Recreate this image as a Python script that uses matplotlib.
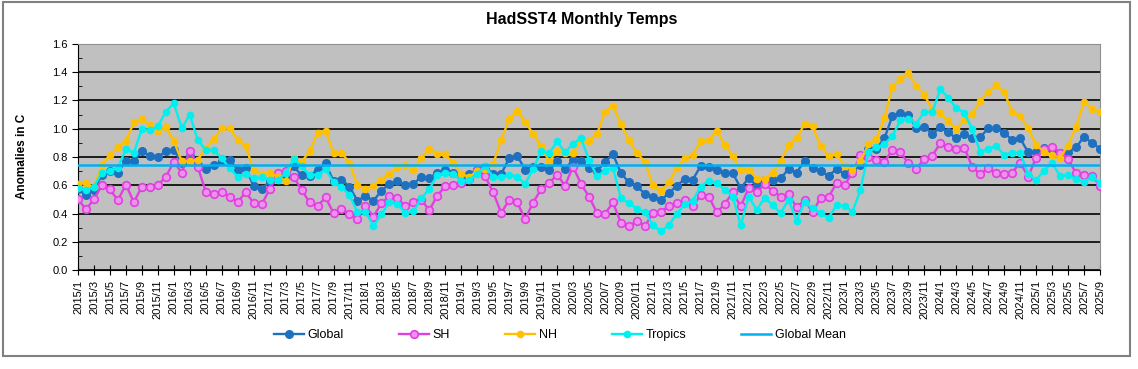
import matplotlib
matplotlib.use("Agg")
import matplotlib.pyplot as plt
from matplotlib.patches import Rectangle
import numpy as np

plt.rcParams['font.family'] = ['Liberation Sans', 'DejaVu Sans']

# months 2015/1 .. 2025/9
months = [f"{2015 + k // 12}/{k % 12 + 1}" for k in range(129)]

global_sst = [
    0.57, 0.53, 0.565, 0.675, 0.70, 0.69, 0.775, 0.775, 0.84, 0.81,
    0.80, 0.84, 0.85, 0.76, 0.81, 0.74, 0.715, 0.74, 0.77, 0.78,
    0.71, 0.72, 0.595, 0.57, 0.63, 0.65, 0.66, 0.735, 0.67, 0.665,
    0.71, 0.755, 0.63, 0.64, 0.59, 0.49, 0.525, 0.49, 0.56, 0.61,
    0.63, 0.60, 0.61, 0.66, 0.65, 0.69, 0.71, 0.685, 0.665, 0.68,
    0.71, 0.73, 0.68, 0.68, 0.79, 0.81, 0.71, 0.73, 0.73, 0.705,
    0.77, 0.715, 0.78, 0.775, 0.72, 0.70, 0.765, 0.82, 0.686, 0.62,
    0.596, 0.537, 0.516, 0.493, 0.545, 0.596, 0.646, 0.64, 0.738, 0.73,
    0.71, 0.686, 0.686, 0.58, 0.65, 0.596, 0.64, 0.634, 0.65, 0.714,
    0.69, 0.773, 0.72, 0.70, 0.667, 0.714, 0.68, 0.71, 0.74, 0.86,
    0.86, 0.932, 1.09, 1.11, 1.10, 1.003, 1.015, 0.963, 1.01, 0.975,
    0.932, 0.963, 0.932, 0.94, 1.003, 1.003, 0.972, 0.92, 0.932, 0.833,
    0.838, 0.866, 0.85, 0.83, 0.838, 0.868, 0.944, 0.90, 0.86,
]

sh_sst = [
    0.50, 0.43, 0.50, 0.60, 0.57, 0.495, 0.605, 0.48, 0.59, 0.585,
    0.60, 0.66, 0.765, 0.69, 0.845, 0.73, 0.555, 0.535, 0.55, 0.52,
    0.48, 0.55, 0.475, 0.465, 0.57, 0.686, 0.70, 0.66, 0.568, 0.478,
    0.45, 0.515, 0.403, 0.433, 0.398, 0.362, 0.452, 0.378, 0.473, 0.523,
    0.508, 0.452, 0.484, 0.497, 0.423, 0.527, 0.593, 0.603, 0.614, 0.644,
    0.711, 0.662, 0.549, 0.405, 0.494, 0.48, 0.36, 0.477, 0.572, 0.617,
    0.673, 0.598, 0.732, 0.609, 0.52, 0.405, 0.398, 0.478, 0.334, 0.308,
    0.35, 0.31, 0.403, 0.408, 0.455, 0.474, 0.493, 0.45, 0.533, 0.52,
    0.408, 0.467, 0.55, 0.45, 0.58, 0.55, 0.61, 0.56, 0.52, 0.537,
    0.443, 0.497, 0.408, 0.51, 0.516, 0.615, 0.604, 0.686, 0.816, 0.80,
    0.78, 0.765, 0.852, 0.832, 0.756, 0.718, 0.786, 0.81, 0.897, 0.873,
    0.857, 0.866, 0.73, 0.677, 0.724, 0.684, 0.68, 0.69, 0.76, 0.66,
    0.795, 0.857, 0.873, 0.83, 0.786, 0.684, 0.673, 0.665, 0.597,
]

nh_sst = [
    0.61, 0.615, 0.585, 0.745, 0.815, 0.87, 0.915, 1.045, 1.07, 1.025,
    0.985, 1.01, 0.913, 0.77, 0.77, 0.78, 0.865, 0.93, 1.003, 1.003,
    0.92, 0.88, 0.705, 0.677, 0.69, 0.66, 0.63, 0.795, 0.765, 0.84,
    0.972, 0.987, 0.83, 0.83, 0.76, 0.60, 0.57, 0.598, 0.64, 0.68,
    0.73, 0.745, 0.71, 0.795, 0.858, 0.82, 0.818, 0.756, 0.68, 0.66,
    0.70, 0.715, 0.752, 0.921, 1.066, 1.126, 1.048, 0.965, 0.878, 0.77,
    0.84, 0.825, 0.825, 0.92, 0.913, 0.963, 1.118, 1.163, 1.034, 0.918,
    0.83, 0.764, 0.60, 0.557, 0.62, 0.72, 0.792, 0.813, 0.915, 0.92,
    0.986, 0.888, 0.804, 0.71, 0.71, 0.647, 0.644, 0.687, 0.77, 0.885,
    0.933, 1.033, 1.016, 0.88, 0.806, 0.82, 0.738, 0.71, 0.77, 0.89,
    0.928, 1.075, 1.299, 1.35, 1.393, 1.302, 1.242, 1.134, 1.11, 1.057,
    0.998, 1.062, 1.104, 1.199, 1.258, 1.31, 1.258, 1.12, 1.09, 1.003,
    0.885, 0.838, 0.814, 0.795, 0.88, 1.015, 1.19, 1.137, 1.12,
]

tropics_sst = [
    0.58, 0.565, 0.59, 0.69, 0.70, 0.725, 0.855, 0.83, 1.0, 0.99,
    1.017, 1.122, 1.18, 1.003, 1.10, 0.92, 0.85, 0.85, 0.79, 0.72,
    0.66, 0.68, 0.65, 0.655, 0.64, 0.635, 0.685, 0.785, 0.738, 0.67,
    0.674, 0.714, 0.62, 0.588, 0.53, 0.41, 0.414, 0.311, 0.395, 0.48,
    0.468, 0.404, 0.415, 0.508, 0.573, 0.673, 0.69, 0.683, 0.63, 0.634,
    0.682, 0.735, 0.66, 0.66, 0.675, 0.66, 0.61, 0.716, 0.842, 0.826,
    0.91, 0.833, 0.895, 0.933, 0.78, 0.664, 0.703, 0.723, 0.51, 0.473,
    0.433, 0.41, 0.32, 0.273, 0.317, 0.399, 0.465, 0.491, 0.59, 0.632,
    0.617, 0.567, 0.52, 0.316, 0.52, 0.426, 0.51, 0.461, 0.402, 0.498,
    0.35, 0.481, 0.438, 0.402, 0.37, 0.458, 0.455, 0.412, 0.567, 0.835,
    0.869, 0.892, 0.948, 1.06, 1.069, 1.036, 1.121, 1.118, 1.279, 1.22,
    1.145, 1.114, 0.996, 0.838, 0.857, 0.878, 0.814, 0.83, 0.83, 0.677,
    0.637, 0.703, 0.755, 0.668, 0.672, 0.644, 0.625, 0.66, 0.618,
]

global_mean = 0.74

x = np.arange(len(months))

fig = plt.figure(figsize=(11.38, 3.69), dpi=100)
ax = fig.add_axes([78 / 1138, 1 - 270 / 369, 1022 / 1138, 226 / 369])
ax.set_facecolor('#C0C0C0')

ax.plot(x, global_sst, color='#2070C0', lw=1.7, marker='o', ms=5.5, label='Global', zorder=3)
ax.plot(x, sh_sst, color='#E040E0', lw=1.7, marker='o', ms=5.5, mfc='#EE90EE',
        mec='#E040E0', mew=1.2, label='SH', zorder=4)
ax.plot(x, nh_sst, color='#FFC000', lw=1.7, marker='o', ms=4.5, label='NH', zorder=5)
ax.plot(x, tropics_sst, color='#00F0F0', lw=1.7, marker='o', ms=4.5, label='Tropics', zorder=6)
ax.axhline(global_mean, color='#00B0F0', lw=1.8, label='Global Mean', zorder=7)

ax.set_xlim(0, len(months) - 1)
ax.set_ylim(0, 1.6)
ax.set_yticks(np.arange(0, 1.61, 0.2))
ax.set_yticklabels([f"{v:.1f}" for v in np.arange(0, 1.61, 0.2)], fontsize=8)
ax.set_yticks(np.arange(0.1, 1.6, 0.2), minor=True)
ax.yaxis.grid(True, color='black', lw=1.2)
ax.set_axisbelow(True)
ax.tick_params(axis='y', which='major', length=4, direction='out')
ax.tick_params(axis='y', which='minor', length=3, direction='in')

ax.set_xticks(x[::2])
ax.set_xticklabels(months[::2], rotation=90, fontsize=8)
ax.tick_params(axis='x', length=7, direction='inout')

for s in ['top', 'right']:
    ax.spines[s].set_color('#909090')
for s in ['left', 'bottom']:
    ax.spines[s].set_color('black')

fig.text(0.511, 0.946, 'HadSST4 Monthly Temps', ha='center', va='center',
         fontsize=11.5, fontweight='bold')
fig.text(0.019, 0.575, 'Anomalies in C', rotation=90, ha='center', va='center',
         fontsize=8.5, fontweight='bold')

fig.legend(loc='center', bbox_to_anchor=(0.492, 0.092), ncol=5, frameon=False,
           fontsize=9, handlelength=2.4, handletextpad=0.3, columnspacing=4.4)

# chart border
fig.patches.append(Rectangle((0.003, 0.035), 0.99, 0.96, transform=fig.transFigure,
                             fill=False, edgecolor='#808080', lw=1.5))

fig.savefig('out.png', dpi=100)
